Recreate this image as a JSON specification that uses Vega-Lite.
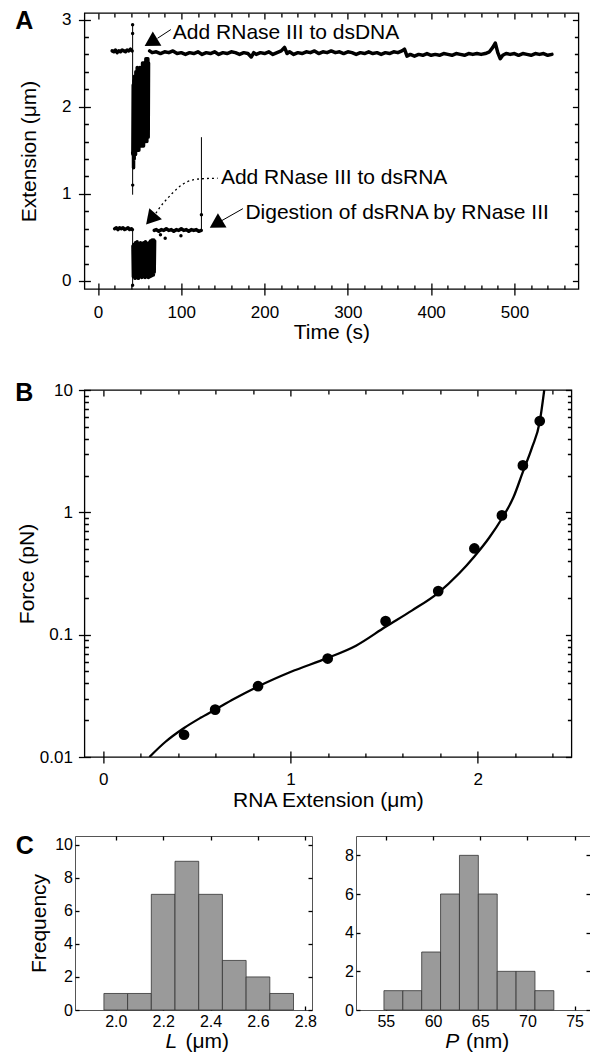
{
  "$schema": "https://vega.github.io/schema/vega-lite/v6.json",
  "padding": {"left": 14, "top": 8, "right": 0, "bottom": 0},
  "background": "white",
  "config": {
    "font": "Liberation Sans",
    "view": {"stroke": "black", "strokeWidth": 1.3},
    "axis": {"domain": false, "grid": false, "ticks": true, "tickColor": "black", "tickWidth": 1.3, "tickOpacity": 1, "labelColor": "black", "titleColor": "black", "labelFont": "Liberation Sans", "titleFont": "Liberation Sans", "titleFontWeight": "normal", "labelFlush": false, "labelOverlap": false},
    "text": {"font": "Liberation Sans", "color": "black"}
  },
  "columns": 1,
  "spacing": 22,
  "concat": [
    {
      "bounds": "flush",
      "spacing": 8.4,
      "hconcat": [
        {"width": 1, "height": 1, "view": {"stroke": null}, "data": {"values": []}, "mark": "point", "encoding": {}},
        {
          "spacing": 37,
          "vconcat": [
            {
              "width": 494,
              "height": 276,
              "resolve": {"axis": {"x": "independent", "y": "independent"}},
              "layer": [
                {
                  "data": {"values": []},
                  "mark": "point",
                  "encoding": {
                    "x": {"field": "t", "type": "quantitative", "scale": {"domain": [-16.3, 576.8], "nice": false, "zero": false},
                          "axis": {"orient": "bottom", "values": [0,20,40,60,80,100,120,140,160,180,200,220,240,260,280,300,320,340,360,380,400,420,440,460,480,500,520,540,560], "tickSize": 12, "offset": -6,
                                   "tickDash": {"condition": {"test": "datum.value % 100 !== 0", "value": [0, 2, 4, 30]}, "value": [30, 1]},
                                   "labelExpr": "datum.value % 100 === 0 ? format(datum.value, 'd') : ''", "labelPadding": 9, "labelFontSize": 17, "title": "Time (s)", "titleFontSize": 21, "titlePadding": 1}},
                    "y": {"field": "ext", "type": "quantitative", "scale": {"domain": [-0.092, 3.075], "nice": false, "zero": false},
                          "axis": {"orient": "left", "values": [0,0.2,0.4,0.6,0.8,1,1.2,1.4,1.6,1.8,2,2.2,2.4,2.6,2.8,3], "tickSize": 12, "offset": -6,
                                   "tickDash": {"condition": {"test": "abs(datum.value - round(datum.value)) > 0.001", "value": [0, 2, 4, 30]}, "value": [30, 1]},
                                   "labelExpr": "abs(datum.value - round(datum.value)) < 0.001 ? format(datum.value, 'd') : ''", "labelPadding": 7.5, "labelFontSize": 17, "title": "Extension (μm)", "titleFontSize": 21, "titlePadding": 22}}
                  }
                },
                {
                  "data": {"values": []},
                  "mark": "point",
                  "encoding": {
                    "x": {"field": "t", "type": "quantitative", "scale": {"domain": [-16.3, 576.8], "nice": false, "zero": false},
                          "axis": {"orient": "top", "values": [0,20,40,60,80,100,120,140,160,180,200,220,240,260,280,300,320,340,360,380,400,420,440,460,480,500,520,540,560], "tickSize": 6, "offset": -6,
                                   "tickDash": {"condition": {"test": "datum.value % 100 !== 0", "value": [0, 2, 4, 30]}, "value": [30, 1]},
                                   "labels": false, "title": null}},
                    "y": {"field": "ext", "type": "quantitative", "scale": {"domain": [-0.092, 3.075], "nice": false, "zero": false},
                          "axis": {"orient": "right", "values": [0,0.2,0.4,0.6,0.8,1,1.2,1.4,1.6,1.8,2,2.2,2.4,2.6,2.8,3], "tickSize": 6, "offset": -6,
                                   "tickDash": {"condition": {"test": "abs(datum.value - round(datum.value)) > 0.001", "value": [0, 2, 4, 30]}, "value": [30, 1]},
                                   "labels": false, "title": null}}
                  }
                },
                {
                  "data": {"values": [
                    {"t":17,"ext":2.64,"seg":"u1"},{"t":19,"ext":2.63,"seg":"u1"},{"t":21,"ext":2.65,"seg":"u1"},{"t":23,"ext":2.62,"seg":"u1"},{"t":25,"ext":2.64,"seg":"u1"},{"t":27,"ext":2.63,"seg":"u1"},{"t":29,"ext":2.65,"seg":"u1"},{"t":31,"ext":2.64,"seg":"u1"},{"t":33,"ext":2.63,"seg":"u1"},{"t":35,"ext":2.65,"seg":"u1"},{"t":37,"ext":2.64,"seg":"u1"},{"t":39,"ext":2.66,"seg":"u1"},{"t":41,"ext":2.64,"seg":"u1"},
                    {"t":41.9,"ext":1.45,"seg":"un"},{"t":42.3,"ext":2.25,"seg":"un"},{"t":42.7,"ext":1.3,"seg":"un"},{"t":43.1,"ext":2.3,"seg":"un"},{"t":43.5,"ext":1.4,"seg":"un"},{"t":43.9,"ext":2.35,"seg":"un"},{"t":44.3,"ext":1.5,"seg":"un"},{"t":44.7,"ext":2.2,"seg":"un"},{"t":45.1,"ext":1.45,"seg":"un"},{"t":45.5,"ext":2.4,"seg":"un"},{"t":45.9,"ext":1.55,"seg":"un"},{"t":46.3,"ext":2.3,"seg":"un"},{"t":46.7,"ext":1.5,"seg":"un"},{"t":47.1,"ext":2.45,"seg":"un"},{"t":47.5,"ext":1.6,"seg":"un"},{"t":47.9,"ext":2.35,"seg":"un"},{"t":48.3,"ext":1.55,"seg":"un"},{"t":48.7,"ext":2.4,"seg":"un"},{"t":49.1,"ext":1.5,"seg":"un"},{"t":49.5,"ext":2.3,"seg":"un"},{"t":49.9,"ext":1.6,"seg":"un"},{"t":50.3,"ext":2.45,"seg":"un"},{"t":50.7,"ext":1.55,"seg":"un"},{"t":51.1,"ext":2.35,"seg":"un"},{"t":51.5,"ext":1.6,"seg":"un"},{"t":51.9,"ext":2.45,"seg":"un"},{"t":52.3,"ext":1.55,"seg":"un"},{"t":52.7,"ext":2.4,"seg":"un"},{"t":53.1,"ext":1.6,"seg":"un"},{"t":53.5,"ext":2.5,"seg":"un"},{"t":53.9,"ext":1.65,"seg":"un"},{"t":54.3,"ext":2.4,"seg":"un"},{"t":54.7,"ext":1.55,"seg":"un"},{"t":55.1,"ext":2.5,"seg":"un"},{"t":55.5,"ext":1.6,"seg":"un"},{"t":55.9,"ext":2.45,"seg":"un"},{"t":56.3,"ext":1.65,"seg":"un"},{"t":56.7,"ext":2.5,"seg":"un"},{"t":57.1,"ext":1.6,"seg":"un"},{"t":57.5,"ext":2.55,"seg":"un"},{"t":57.9,"ext":1.65,"seg":"un"},{"t":58.3,"ext":2.5,"seg":"un"},{"t":58.7,"ext":1.6,"seg":"un"},{"t":59.1,"ext":2.55,"seg":"un"},{"t":59.5,"ext":1.7,"seg":"un"},{"t":59.9,"ext":2.55,"seg":"un"},{"t":60.3,"ext":1.65,"seg":"un"},{"t":60.7,"ext":2.5,"seg":"un"},
                    {"t":62,"ext":2.64,"seg":"u2"},{"t":65,"ext":2.62,"seg":"u2"},{"t":70,"ext":2.63,"seg":"u2"},{"t":75,"ext":2.61,"seg":"u2"},{"t":80,"ext":2.63,"seg":"u2"},{"t":85,"ext":2.62,"seg":"u2"},{"t":90,"ext":2.64,"seg":"u2"},{"t":95,"ext":2.61,"seg":"u2"},{"t":100,"ext":2.62,"seg":"u2"},{"t":105,"ext":2.6,"seg":"u2"},{"t":110,"ext":2.62,"seg":"u2"},{"t":115,"ext":2.61,"seg":"u2"},{"t":120,"ext":2.63,"seg":"u2"},{"t":125,"ext":2.6,"seg":"u2"},{"t":130,"ext":2.62,"seg":"u2"},{"t":135,"ext":2.61,"seg":"u2"},{"t":140,"ext":2.63,"seg":"u2"},{"t":145,"ext":2.6,"seg":"u2"},{"t":150,"ext":2.62,"seg":"u2"},{"t":155,"ext":2.61,"seg":"u2"},{"t":160,"ext":2.63,"seg":"u2"},{"t":165,"ext":2.62,"seg":"u2"},{"t":170,"ext":2.6,"seg":"u2"},{"t":175,"ext":2.62,"seg":"u2"},{"t":180,"ext":2.61,"seg":"u2"},{"t":184,"ext":2.57,"seg":"u2"},{"t":187,"ext":2.62,"seg":"u2"},{"t":190,"ext":2.6,"seg":"u2"},{"t":195,"ext":2.62,"seg":"u2"},{"t":200,"ext":2.61,"seg":"u2"},{"t":205,"ext":2.63,"seg":"u2"},{"t":210,"ext":2.6,"seg":"u2"},{"t":215,"ext":2.62,"seg":"u2"},{"t":220,"ext":2.64,"seg":"u2"},{"t":224,"ext":2.68,"seg":"u2"},{"t":227,"ext":2.61,"seg":"u2"},{"t":230,"ext":2.63,"seg":"u2"},{"t":235,"ext":2.6,"seg":"u2"},{"t":240,"ext":2.62,"seg":"u2"},{"t":245,"ext":2.61,"seg":"u2"},{"t":250,"ext":2.63,"seg":"u2"},{"t":255,"ext":2.62,"seg":"u2"},{"t":260,"ext":2.64,"seg":"u2"},{"t":265,"ext":2.61,"seg":"u2"},{"t":270,"ext":2.63,"seg":"u2"},{"t":275,"ext":2.62,"seg":"u2"},{"t":280,"ext":2.64,"seg":"u2"},{"t":285,"ext":2.62,"seg":"u2"},{"t":290,"ext":2.63,"seg":"u2"},{"t":295,"ext":2.61,"seg":"u2"},{"t":300,"ext":2.63,"seg":"u2"},{"t":305,"ext":2.62,"seg":"u2"},{"t":310,"ext":2.6,"seg":"u2"},{"t":315,"ext":2.62,"seg":"u2"},{"t":320,"ext":2.61,"seg":"u2"},{"t":325,"ext":2.63,"seg":"u2"},{"t":330,"ext":2.61,"seg":"u2"},{"t":335,"ext":2.62,"seg":"u2"},{"t":340,"ext":2.6,"seg":"u2"},{"t":345,"ext":2.62,"seg":"u2"},{"t":350,"ext":2.61,"seg":"u2"},{"t":355,"ext":2.63,"seg":"u2"},{"t":360,"ext":2.62,"seg":"u2"},{"t":365,"ext":2.64,"seg":"u2"},{"t":368,"ext":2.66,"seg":"u2"},{"t":371,"ext":2.58,"seg":"u2"},{"t":375,"ext":2.6,"seg":"u2"},{"t":380,"ext":2.58,"seg":"u2"},{"t":385,"ext":2.6,"seg":"u2"},{"t":390,"ext":2.59,"seg":"u2"},{"t":395,"ext":2.61,"seg":"u2"},{"t":400,"ext":2.59,"seg":"u2"},{"t":405,"ext":2.6,"seg":"u2"},{"t":410,"ext":2.59,"seg":"u2"},{"t":415,"ext":2.61,"seg":"u2"},{"t":420,"ext":2.6,"seg":"u2"},{"t":425,"ext":2.59,"seg":"u2"},{"t":430,"ext":2.61,"seg":"u2"},{"t":435,"ext":2.6,"seg":"u2"},{"t":440,"ext":2.59,"seg":"u2"},{"t":445,"ext":2.61,"seg":"u2"},{"t":450,"ext":2.6,"seg":"u2"},{"t":455,"ext":2.61,"seg":"u2"},{"t":460,"ext":2.6,"seg":"u2"},{"t":465,"ext":2.61,"seg":"u2"},{"t":470,"ext":2.63,"seg":"u2"},{"t":474,"ext":2.68,"seg":"u2"},{"t":477,"ext":2.73,"seg":"u2"},{"t":480,"ext":2.62,"seg":"u2"},{"t":483,"ext":2.55,"seg":"u2"},{"t":486,"ext":2.59,"seg":"u2"},{"t":490,"ext":2.61,"seg":"u2"},{"t":495,"ext":2.6,"seg":"u2"},{"t":500,"ext":2.61,"seg":"u2"},{"t":505,"ext":2.59,"seg":"u2"},{"t":510,"ext":2.61,"seg":"u2"},{"t":515,"ext":2.6,"seg":"u2"},{"t":520,"ext":2.59,"seg":"u2"},{"t":525,"ext":2.61,"seg":"u2"},{"t":530,"ext":2.6,"seg":"u2"},{"t":535,"ext":2.61,"seg":"u2"},{"t":540,"ext":2.59,"seg":"u2"},{"t":545,"ext":2.6,"seg":"u2"},
                    {"t":20,"ext":0.6,"seg":"l1"},{"t":22,"ext":0.61,"seg":"l1"},{"t":24,"ext":0.59,"seg":"l1"},{"t":26,"ext":0.61,"seg":"l1"},{"t":28,"ext":0.6,"seg":"l1"},{"t":30,"ext":0.61,"seg":"l1"},{"t":32,"ext":0.59,"seg":"l1"},{"t":34,"ext":0.6,"seg":"l1"},{"t":36,"ext":0.61,"seg":"l1"},{"t":38,"ext":0.59,"seg":"l1"},{"t":40,"ext":0.6,"seg":"l1"},{"t":41.3,"ext":0.59,"seg":"l1"},
                    {"t":42,"ext":0.4,"seg":"ln"},{"t":42.5,"ext":0.05,"seg":"ln"},{"t":43,"ext":0.42,"seg":"ln"},{"t":43.5,"ext":0.08,"seg":"ln"},{"t":44,"ext":0.38,"seg":"ln"},{"t":44.5,"ext":0.03,"seg":"ln"},{"t":45,"ext":0.44,"seg":"ln"},{"t":45.5,"ext":0.06,"seg":"ln"},{"t":46,"ext":0.4,"seg":"ln"},{"t":46.5,"ext":0.04,"seg":"ln"},{"t":47,"ext":0.45,"seg":"ln"},{"t":47.5,"ext":0.07,"seg":"ln"},{"t":48,"ext":0.39,"seg":"ln"},{"t":48.5,"ext":0.03,"seg":"ln"},{"t":49,"ext":0.43,"seg":"ln"},{"t":49.5,"ext":0.08,"seg":"ln"},{"t":50,"ext":0.41,"seg":"ln"},{"t":50.5,"ext":0.05,"seg":"ln"},{"t":51,"ext":0.44,"seg":"ln"},{"t":51.5,"ext":0.06,"seg":"ln"},{"t":52,"ext":0.4,"seg":"ln"},{"t":52.5,"ext":0.04,"seg":"ln"},{"t":53,"ext":0.43,"seg":"ln"},{"t":53.5,"ext":0.07,"seg":"ln"},{"t":54,"ext":0.38,"seg":"ln"},{"t":54.5,"ext":0.05,"seg":"ln"},{"t":55,"ext":0.44,"seg":"ln"},{"t":55.5,"ext":0.08,"seg":"ln"},{"t":56,"ext":0.41,"seg":"ln"},{"t":56.5,"ext":0.04,"seg":"ln"},{"t":57,"ext":0.45,"seg":"ln"},{"t":57.5,"ext":0.06,"seg":"ln"},{"t":58,"ext":0.4,"seg":"ln"},{"t":58.5,"ext":0.05,"seg":"ln"},{"t":59,"ext":0.43,"seg":"ln"},{"t":59.5,"ext":0.07,"seg":"ln"},{"t":60,"ext":0.41,"seg":"ln"},{"t":60.5,"ext":0.04,"seg":"ln"},{"t":61,"ext":0.44,"seg":"ln"},{"t":61.5,"ext":0.06,"seg":"ln"},{"t":62,"ext":0.42,"seg":"ln"},{"t":62.5,"ext":0.05,"seg":"ln"},{"t":63,"ext":0.46,"seg":"ln"},{"t":63.5,"ext":0.08,"seg":"ln"},{"t":64,"ext":0.43,"seg":"ln"},{"t":64.5,"ext":0.06,"seg":"ln"},{"t":65,"ext":0.47,"seg":"ln"},{"t":65.5,"ext":0.09,"seg":"ln"},{"t":66,"ext":0.45,"seg":"ln"},{"t":66.5,"ext":0.07,"seg":"ln"},{"t":67,"ext":0.47,"seg":"ln"},{"t":67.5,"ext":0.1,"seg":"ln"},{"t":68,"ext":0.46,"seg":"ln"},
                    {"t":67.5,"ext":0.58,"seg":"l2"},{"t":70,"ext":0.59,"seg":"l2"},{"t":73,"ext":0.57,"seg":"l2"},{"t":76,"ext":0.59,"seg":"l2"},{"t":79,"ext":0.58,"seg":"l2"},{"t":82,"ext":0.6,"seg":"l2"},{"t":85,"ext":0.58,"seg":"l2"},{"t":88,"ext":0.59,"seg":"l2"},{"t":91,"ext":0.57,"seg":"l2"},{"t":94,"ext":0.59,"seg":"l2"},{"t":97,"ext":0.58,"seg":"l2"},{"t":100,"ext":0.6,"seg":"l2"},{"t":103,"ext":0.58,"seg":"l2"},{"t":106,"ext":0.59,"seg":"l2"},{"t":109,"ext":0.57,"seg":"l2"},{"t":112,"ext":0.59,"seg":"l2"},{"t":115,"ext":0.58,"seg":"l2"},{"t":118,"ext":0.59,"seg":"l2"},{"t":121,"ext":0.57,"seg":"l2"},{"t":124,"ext":0.58,"seg":"l2"}
                  ]},
                  "mark": {"type": "line", "stroke": "black", "strokeWidth": 3.5, "strokeJoin": "round", "strokeCap": "round", "clip": true},
                  "encoding": {
                    "x": {"field": "t", "type": "quantitative", "scale": {"domain": [-16.3, 576.8], "nice": false, "zero": false}, "axis": null},
                    "y": {"field": "ext", "type": "quantitative", "scale": {"domain": [-0.092, 3.075], "nice": false, "zero": false}, "axis": null},
                    "detail": {"field": "seg"}
                  }
                },
                {
                  "data": {"values": [{"t":41.6,"lo":0.99,"hi":2.95},{"t":41.6,"lo":-0.05,"hi":0.6},{"t":124.2,"lo":0.57,"hi":1.65}]},
                  "mark": {"type": "rule", "stroke": "black", "strokeWidth": 1},
                  "encoding": {
                    "x": {"field": "t", "type": "quantitative", "scale": {"domain": [-16.3, 576.8], "nice": false, "zero": false}, "axis": null},
                    "y": {"field": "lo", "type": "quantitative", "scale": {"domain": [-0.092, 3.075], "nice": false, "zero": false}, "axis": null},
                    "y2": {"field": "hi"}
                  }
                },
                {
                  "data": {"values": [{"t":41.6,"ext":2.94},{"t":41.6,"ext":2.84},{"t":41.7,"ext":1.1},{"t":41.6,"ext":1.47},{"t":41.6,"ext":-0.05},{"t":124.2,"ext":0.76},{"t":80.7,"ext":0.49},{"t":99.6,"ext":0.52},{"t":75,"ext":0.53}]},
                  "mark": {"type": "point", "filled": true, "size": 12, "color": "black", "opacity": 1},
                  "encoding": {
                    "x": {"field": "t", "type": "quantitative", "scale": {"domain": [-16.3, 576.8], "nice": false, "zero": false}, "axis": null},
                    "y": {"field": "ext", "type": "quantitative", "scale": {"domain": [-0.092, 3.075], "nice": false, "zero": false}, "axis": null}
                  }
                },
                {
                  "data": {"values": [{"id":"a1","t":63.5,"ext":2.739},{"id":"a2","t":63.5,"ext":0.71},{"id":"a3","t":141.7,"ext":0.653}]},
                  "mark": {"type": "point", "shape": "triangle-up", "filled": true, "size": 280, "color": "black", "opacity": 1},
                  "encoding": {
                    "x": {"field": "t", "type": "quantitative", "scale": {"domain": [-16.3, 576.8], "nice": false, "zero": false}, "axis": null},
                    "y": {"field": "ext", "type": "quantitative", "scale": {"domain": [-0.092, 3.075], "nice": false, "zero": false}, "axis": null},
                    "angle": {"condition": {"test": "datum.id === 'a2'", "value": 221}, "value": 239}
                  }
                },
                {
                  "data": {"values": [{"t":71.5,"ext":2.785,"t2":87.5,"ext2":2.885},{"t":148.7,"ext":0.693,"t2":174,"ext2":0.83}]},
                  "mark": {"type": "rule", "stroke": "black", "strokeWidth": 1},
                  "encoding": {
                    "x": {"field": "t", "type": "quantitative", "scale": {"domain": [-16.3, 576.8], "nice": false, "zero": false}, "axis": null},
                    "x2": {"field": "t2"},
                    "y": {"field": "ext", "type": "quantitative", "scale": {"domain": [-0.092, 3.075], "nice": false, "zero": false}, "axis": null},
                    "y2": {"field": "ext2"}
                  }
                },
                {
                  "data": {"values": [{"t":69.5,"ext":0.777},{"t":73.5,"ext":0.834},{"t":83.6,"ext":0.949},{"t":95.6,"ext":1.064},{"t":107.6,"ext":1.141},{"t":123.5,"ext":1.172},{"t":143.6,"ext":1.179}]},
                  "mark": {"type": "line", "stroke": "black", "strokeWidth": 1.3, "strokeDash": [2, 3], "interpolate": "monotone"},
                  "encoding": {
                    "x": {"field": "t", "type": "quantitative", "scale": {"domain": [-16.3, 576.8], "nice": false, "zero": false}, "axis": null},
                    "y": {"field": "ext", "type": "quantitative", "scale": {"domain": [-0.092, 3.075], "nice": false, "zero": false}, "axis": null}
                  }
                },
                {
                  "data": {"values": [{"t":89.9,"ext":2.85,"label":"Add RNase III to dsDNA"},{"t":147.6,"ext":1.179,"label":"Add RNase III to dsRNA"},{"t":177,"ext":0.78,"label":"Digestion of dsRNA by RNase III"}]},
                  "mark": {"type": "text", "align": "left", "baseline": "middle", "fontSize": 21, "color": "black"},
                  "encoding": {
                    "x": {"field": "t", "type": "quantitative", "scale": {"domain": [-16.3, 576.8], "nice": false, "zero": false}, "axis": null},
                    "y": {"field": "ext", "type": "quantitative", "scale": {"domain": [-0.092, 3.075], "nice": false, "zero": false}, "axis": null},
                    "text": {"field": "label"}
                  }
                },
                {
                  "data": {"values": [{}]},
                  "mark": {"type": "text", "text": "A", "align": "center", "baseline": "middle", "fontSize": 25, "fontWeight": "bold", "color": "black", "clip": false},
                  "encoding": {
                    "x": {"datum": -88.4, "type": "quantitative", "scale": {"domain": [-16.3, 576.8], "nice": false, "zero": false}, "axis": null},
                    "y": {"datum": 2.98, "type": "quantitative", "scale": {"domain": [-0.092, 3.075], "nice": false, "zero": false}, "axis": null}
                  }
                }
              ]
            },
            {
              "width": 487,
              "height": 367,
              "resolve": {"axis": {"x": "independent", "y": "independent"}},
              "layer": [
                {
                  "data": {"values": []},
                  "mark": "point",
                  "encoding": {
                    "x": {"field": "x", "type": "quantitative", "scale": {"domain": [-0.1, 2.5], "nice": false, "zero": false},
                          "axis": {"orient": "bottom", "values": [0,0.2,0.4,0.6,0.8,1,1.2,1.4,1.6,1.8,2,2.2,2.4], "tickSize": 12, "offset": -6,
                                   "tickDash": {"condition": {"test": "abs(datum.value - round(datum.value)) > 0.001", "value": [0, 2, 4, 30]}, "value": [30, 1]},
                                   "labelExpr": "abs(datum.value - round(datum.value)) < 0.001 ? format(datum.value, 'd') : ''", "labelPadding": 8, "labelFontSize": 17, "title": "RNA Extension (μm)", "titleFontSize": 21, "titlePadding": 2}},
                    "y": {"field": "F", "type": "quantitative", "scale": {"type": "log", "domain": [0.01, 10], "nice": false},
                          "axis": {"orient": "left", "values": [0.01,0.02,0.03,0.04,0.05,0.06,0.07,0.08,0.09,0.1,0.2,0.3,0.4,0.5,0.6,0.7,0.8,0.9,1,2,3,4,5,6,7,8,9,10], "tickSize": 12, "offset": -6,
                                   "tickDash": {"condition": {"test": "abs(log(datum.value)/LN10 - round(log(datum.value)/LN10)) > 0.001", "value": [0, 2, 4, 30]}, "value": [30, 1]},
                                   "labelExpr": "abs(log(datum.value)/LN10 - round(log(datum.value)/LN10)) < 0.001 ? format(datum.value, '~g') : ''", "labelPadding": 6, "labelFontSize": 17, "title": "Force (pN)", "titleFontSize": 21, "titlePadding": 2}}
                  }
                },
                {
                  "data": {"values": []},
                  "mark": "point",
                  "encoding": {
                    "x": {"field": "x", "type": "quantitative", "scale": {"domain": [-0.1, 2.5], "nice": false, "zero": false},
                          "axis": {"orient": "top", "values": [0,0.2,0.4,0.6,0.8,1,1.2,1.4,1.6,1.8,2,2.2,2.4], "tickSize": 6, "offset": -6,
                                   "tickDash": {"condition": {"test": "abs(datum.value - round(datum.value)) > 0.001", "value": [0, 2, 4, 30]}, "value": [30, 1]},
                                   "labels": false, "title": null}},
                    "y": {"field": "F", "type": "quantitative", "scale": {"type": "log", "domain": [0.01, 10], "nice": false},
                          "axis": {"orient": "right", "values": [0.01,0.02,0.03,0.04,0.05,0.06,0.07,0.08,0.09,0.1,0.2,0.3,0.4,0.5,0.6,0.7,0.8,0.9,1,2,3,4,5,6,7,8,9,10], "tickSize": 6, "offset": -6,
                                   "tickDash": {"condition": {"test": "abs(log(datum.value)/LN10 - round(log(datum.value)/LN10)) > 0.001", "value": [0, 2, 4, 30]}, "value": [30, 1]},
                                   "labels": false, "title": null}}
                  }
                },
                {
                  "data": {"values": [{"x":0.247,"F":0.01},{"x":0.33,"F":0.0132},{"x":0.432,"F":0.01726},{"x":0.52,"F":0.0209},{"x":0.598,"F":0.0244},{"x":0.7,"F":0.0299},{"x":0.827,"F":0.0377},{"x":1.0,"F":0.0495},{"x":1.199,"F":0.0646},{"x":1.35,"F":0.0813},{"x":1.508,"F":0.116},{"x":1.65,"F":0.158},{"x":1.789,"F":0.22},{"x":1.9,"F":0.316},{"x":1.982,"F":0.436},{"x":2.06,"F":0.617},{"x":2.129,"F":0.891},{"x":2.19,"F":1.32},{"x":2.241,"F":2.14},{"x":2.29,"F":3.39},{"x":2.331,"F":5.5},{"x":2.355,"F":10}]},
                  "mark": {"type": "line", "stroke": "black", "strokeWidth": 2.3, "interpolate": "monotone", "clip": true},
                  "encoding": {
                    "x": {"field": "x", "type": "quantitative", "scale": {"domain": [-0.1, 2.5], "nice": false, "zero": false}, "axis": null},
                    "y": {"field": "F", "type": "quantitative", "scale": {"type": "log", "domain": [0.01, 10], "nice": false}, "axis": null}
                  }
                },
                {
                  "data": {"values": [{"x":0.432,"F":0.0152},{"x":0.598,"F":0.0244},{"x":0.827,"F":0.0379},{"x":1.199,"F":0.0638},{"x":1.508,"F":0.129},{"x":1.789,"F":0.227},{"x":1.982,"F":0.507},{"x":2.129,"F":0.944},{"x":2.241,"F":2.42},{"x":2.331,"F":5.58}]},
                  "mark": {"type": "point", "shape": "circle", "filled": true, "size": 115, "color": "black", "opacity": 1},
                  "encoding": {
                    "x": {"field": "x", "type": "quantitative", "scale": {"domain": [-0.1, 2.5], "nice": false, "zero": false}, "axis": null},
                    "y": {"field": "F", "type": "quantitative", "scale": {"type": "log", "domain": [0.01, 10], "nice": false}, "axis": null}
                  }
                },
                {
                  "data": {"values": [{}]},
                  "mark": {"type": "text", "text": "B", "align": "center", "baseline": "middle", "fontSize": 25, "fontWeight": "bold", "color": "black", "clip": false},
                  "encoding": {
                    "x": {"datum": -0.421, "type": "quantitative", "scale": {"domain": [-0.1, 2.5], "nice": false, "zero": false}, "axis": null},
                    "y": {"datum": 9.49, "type": "quantitative", "scale": {"type": "log", "domain": [0.01, 10], "nice": false}, "axis": null}
                  }
                }
              ]
            }
          ]
        }
      ]
    },
    {
      "spacing": 27,
      "hconcat": [
        {
          "width": 237,
          "height": 174,
          "view": {"stroke": "#555", "strokeWidth": 1},
          "resolve": {"axis": {"x": "independent", "y": "independent"}},
          "layer": [
            {
              "data": {"values": []},
              "mark": "point",
              "encoding": {
                "x": {"field": "lo", "type": "quantitative", "scale": {"domain": [1.828, 2.828], "nice": false, "zero": false},
                      "axis": {"orient": "bottom", "values": [2.0,2.2,2.4,2.6,2.8], "format": ".1f", "tickSize": 4, "offset": -4, "labelPadding": 3, "labelFontSize": 16, "title": null}},
                "y": {"field": "n", "type": "quantitative", "scale": {"domain": [0, 10.53], "nice": false, "zero": false},
                      "axis": {"orient": "left", "values": [0,2,4,6,8,10], "tickSize": 4, "offset": -4, "labelPadding": 2.5, "labelFontSize": 16, "title": "Frequency", "titleFontSize": 21, "titlePadding": 5}}
              }
            },
            {
              "data": {"values": []},
              "mark": "point",
              "encoding": {
                "x": {"field": "lo", "type": "quantitative", "scale": {"domain": [1.828, 2.828], "nice": false, "zero": false},
                      "axis": {"orient": "top", "values": [2.0,2.2,2.4,2.6,2.8], "tickSize": 4, "offset": -4, "labels": false, "title": null}},
                "y": {"field": "n", "type": "quantitative", "scale": {"domain": [0, 10.53], "nice": false, "zero": false},
                      "axis": {"orient": "right", "values": [0,2,4,6,8,10], "tickSize": 4, "offset": -4, "labels": false, "title": null}}
              }
            },
            {
              "data": {"values": [{"lo":1.95,"hi":2.05,"n":1},{"lo":2.05,"hi":2.15,"n":1},{"lo":2.15,"hi":2.25,"n":7},{"lo":2.25,"hi":2.35,"n":9},{"lo":2.35,"hi":2.45,"n":7},{"lo":2.45,"hi":2.55,"n":3},{"lo":2.55,"hi":2.65,"n":2},{"lo":2.65,"hi":2.75,"n":1}]},
              "mark": {"type": "rect", "fill": "#9a9a9a", "stroke": "#333", "strokeWidth": 0.8},
              "encoding": {
                "x": {"field": "lo", "type": "quantitative", "scale": {"domain": [1.828, 2.828], "nice": false, "zero": false}, "axis": null},
                "x2": {"field": "hi"},
                "y": {"field": "n", "type": "quantitative", "scale": {"domain": [0, 10.53], "nice": false, "zero": false}, "axis": null},
                "y2": {"datum": 0}
              }
            },
            {
              "data": {"values": [{}]},
              "mark": {"type": "text", "text": "C", "align": "center", "baseline": "middle", "fontSize": 25, "fontWeight": "bold", "color": "black", "clip": false},
              "encoding": {
                "x": {"datum": 1.616, "type": "quantitative", "scale": {"domain": [1.828, 2.828], "nice": false, "zero": false}, "axis": null},
                "y": {"datum": 9.91, "type": "quantitative", "scale": {"domain": [0, 10.53], "nice": false, "zero": false}, "axis": null}
              }
            },
            {
              "data": {"values": [{}]},
              "mark": {"type": "text", "text": "L", "align": "left", "baseline": "middle", "fontSize": 21, "fontStyle": "italic", "color": "black", "clip": false},
              "encoding": {
                "x": {"datum": 2.21, "type": "quantitative", "scale": {"domain": [1.828, 2.828], "nice": false, "zero": false}, "axis": null},
                "y": {"datum": -1.95, "type": "quantitative", "scale": {"domain": [0, 10.53], "nice": false, "zero": false}, "axis": null}
              }
            },
            {
              "data": {"values": [{}]},
              "mark": {"type": "text", "text": "(μm)", "align": "left", "baseline": "middle", "fontSize": 21, "color": "black", "clip": false},
              "encoding": {
                "x": {"datum": 2.294, "type": "quantitative", "scale": {"domain": [1.828, 2.828], "nice": false, "zero": false}, "axis": null},
                "y": {"datum": -1.95, "type": "quantitative", "scale": {"domain": [0, 10.53], "nice": false, "zero": false}, "axis": null}
              }
            }
          ]
        },
        {
          "width": 234,
          "height": 174,
          "view": {"stroke": "#555", "strokeWidth": 1},
          "resolve": {"axis": {"x": "independent", "y": "independent"}},
          "layer": [
            {
              "data": {"values": []},
              "mark": "point",
              "encoding": {
                "x": {"field": "lo", "type": "quantitative", "scale": {"domain": [51.84, 76.63], "nice": false, "zero": false},
                      "axis": {"orient": "bottom", "values": [55,60,65,70,75], "tickSize": 4, "offset": -4, "labelPadding": 3, "labelFontSize": 16, "title": null}},
                "y": {"field": "n", "type": "quantitative", "scale": {"domain": [0, 9], "nice": false, "zero": false},
                      "axis": {"orient": "left", "values": [0,2,4,6,8], "tickSize": 4, "offset": -4, "labelPadding": 2.5, "labelFontSize": 16, "title": null}}
              }
            },
            {
              "data": {"values": []},
              "mark": "point",
              "encoding": {
                "x": {"field": "lo", "type": "quantitative", "scale": {"domain": [51.84, 76.63], "nice": false, "zero": false},
                      "axis": {"orient": "top", "values": [55,60,65,70,75], "tickSize": 4, "offset": -4, "labels": false, "title": null}},
                "y": {"field": "n", "type": "quantitative", "scale": {"domain": [0, 9], "nice": false, "zero": false},
                      "axis": {"orient": "right", "values": [0,2,4,6,8], "tickSize": 4, "offset": -4, "labels": false, "title": null}}
              }
            },
            {
              "data": {"values": [{"lo":54.8,"hi":56.8,"n":1},{"lo":56.8,"hi":58.8,"n":1},{"lo":58.8,"hi":60.8,"n":3},{"lo":60.8,"hi":62.8,"n":6},{"lo":62.8,"hi":64.8,"n":8},{"lo":64.8,"hi":66.8,"n":6},{"lo":66.8,"hi":68.8,"n":2},{"lo":68.8,"hi":70.8,"n":2},{"lo":70.8,"hi":72.8,"n":1}]},
              "mark": {"type": "rect", "fill": "#9a9a9a", "stroke": "#333", "strokeWidth": 0.8},
              "encoding": {
                "x": {"field": "lo", "type": "quantitative", "scale": {"domain": [51.84, 76.63], "nice": false, "zero": false}, "axis": null},
                "x2": {"field": "hi"},
                "y": {"field": "n", "type": "quantitative", "scale": {"domain": [0, 9], "nice": false, "zero": false}, "axis": null},
                "y2": {"datum": 0}
              }
            },
            {
              "data": {"values": [{}]},
              "mark": {"type": "text", "text": "P", "align": "left", "baseline": "middle", "fontSize": 21, "fontStyle": "italic", "color": "black", "clip": false},
              "encoding": {
                "x": {"datum": 61.29, "type": "quantitative", "scale": {"domain": [51.84, 76.63], "nice": false, "zero": false}, "axis": null},
                "y": {"datum": -1.67, "type": "quantitative", "scale": {"domain": [0, 9], "nice": false, "zero": false}, "axis": null}
              }
            },
            {
              "data": {"values": [{}]},
              "mark": {"type": "text", "text": "(nm)", "align": "left", "baseline": "middle", "fontSize": 21, "color": "black", "clip": false},
              "encoding": {
                "x": {"datum": 63.49, "type": "quantitative", "scale": {"domain": [51.84, 76.63], "nice": false, "zero": false}, "axis": null},
                "y": {"datum": -1.67, "type": "quantitative", "scale": {"domain": [0, 9], "nice": false, "zero": false}, "axis": null}
              }
            }
          ]
        }
      ]
    }
  ]
}
